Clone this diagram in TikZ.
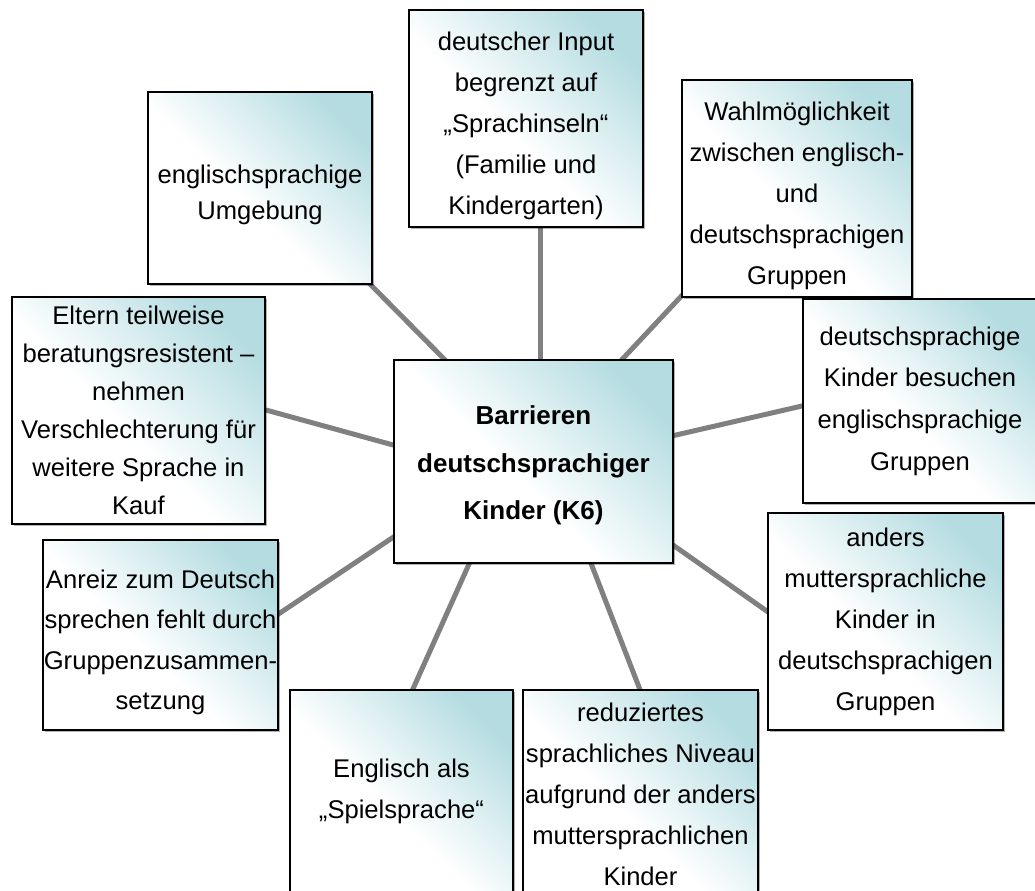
\documentclass[tikz,border=0pt]{standalone}
\usepackage{fontspec}
\setmainfont{Liberation Sans}
\usetikzlibrary{calc,backgrounds,shadows}
\definecolor{tealbox}{RGB}{180,220,225}
\definecolor{conngray}{RGB}{128,128,128}
\pgfdeclarehorizontalshading{boxshade}{100bp}{color(0bp)=(white); color(45bp)=(white); color(76bp)=(tealbox); color(100bp)=(tealbox)}
\tikzset{
  box/.style={draw=black, line width=1pt, shade, shading=boxshade, shading angle=45,
    drop shadow={shadow xshift=1.5pt, shadow yshift=-1.5pt, fill=black, opacity=0.3},
    inner sep=0pt},
  txt/.style={align=center, inner sep=0pt, font=\fontsize{19.2}{30.75}\selectfont},
  maintxt/.style={txt, font=\fontsize{19.5}{35.6}\selectfont\bfseries},
  conn/.style={draw=conngray, line width=3.75pt}
}
\begin{document}
\begin{tikzpicture}[x=0.75pt,y=-0.75pt]
\path[use as bounding box] (0,0) rectangle (1035,891);
\clip (0,0) rectangle (1035,891);
% boxes
\node[box, minimum width=209.25pt, minimum height=152.25pt] (c) at (533.5,461.5) {};
\node[box, minimum width=168pt, minimum height=144pt] (umg) at (260,188) {};
\node[box, minimum width=175.5pt, minimum height=162.75pt] (inp) at (526,118.5) {};
\node[box, minimum width=172.5pt, minimum height=162.75pt] (wahl) at (797,188.5) {};
\node[box, minimum width=175.5pt, minimum height=153pt] (dk) at (920,401) {};
\node[box, minimum width=189.75pt, minimum height=170.25pt] (eltern) at (138.5,410.5) {};
\node[box, minimum width=176.25pt, minimum height=142.5pt] (anreiz) at (160.5,635) {};
\node[box, minimum width=176.25pt, minimum height=162.75pt] (anders) at (885.5,621.5) {};
\node[box, minimum width=167.25pt, minimum height=152.25pt] (engl) at (401.5,791.5) {};
\node[box, minimum width=176.25pt, minimum height=161.25pt] (red) at (640.5,797.5) {};
% texts
\node[maintxt] (cT) at ($(c)+(0,4)$) {Barrieren\\deutschsprachiger\\Kinder (K6)};
\node[txt, font=\fontsize{19.2}{27}\selectfont] (umgT) at ($(umg)+(0,7)$) {englischsprachige\\Umgebung};
\node[txt] (inpT) at ($(inp)+(0,7)$) {deutscher Input\\begrenzt auf\\„Sprachinseln“\\(Familie und\\Kindergarten)};
\node[txt] (wahlT) at ($(wahl)+(0,7)$) {Wahlmöglichkeit\\zwischen englisch-\\und\\deutschsprachigen\\Gruppen};
\node[txt, font=\fontsize{19.2}{31.25}\selectfont] (dkT) at (dk) {deutschsprachige\\Kinder besuchen\\englischsprachige\\Gruppen};
\node[txt, font=\fontsize{19.2}{28.5}\selectfont] (elternT) at (eltern) {Eltern teilweise\\beratungsresistent –\\nehmen\\Verschlechterung für\\weitere Sprache in\\Kauf};
\node[txt, font=\fontsize{19.2}{30.2}\selectfont] (anreizT) at ($(anreiz)+(0,7.5)$) {Anreiz zum Deutsch\\sprechen fehlt durch\\Gruppenzusammen-\\setzung};
\node[txt] (andersT) at (anders) {anders\\muttersprachliche\\Kinder in\\deutschsprachigen\\Gruppen};
\node[txt] (englT) at (engl) {Englisch als\\„Spielsprache“};
\node[txt] (redT) at ($(red)+(0,-3)$) {reduziertes\\sprachliches Niveau\\aufgrund der anders\\muttersprachlichen\\Kinder};
% connectors
\begin{scope}[on background layer]
\draw[conn] ($(c)+(-78.5,-91.5)$) -- ($(umg)+(102,88)$);
\draw[conn] ($(c)+(6.5,-91.5)$) -- ($(inp)+(14,101.5)$);
\draw[conn] ($(c)+(81.5,-94.5)$) -- ($(wahl)+(-109,100.5)$);
\draw[conn] ($(c)+(129.5,-23.5)$) -- ($(dk)+(-105,2)$);
\draw[conn] ($(c)+(-129.5,-13.5)$) -- ($(eltern)+(116.5,-3.5)$);
\draw[conn] ($(c)+(-129.5,68.5)$) -- ($(anreiz)+(107.5,-14)$);
\draw[conn] ($(c)+(-59.5,91.5)$) -- ($(engl)+(6.5,-91.5)$);
\draw[conn] ($(c)+(53.5,91.5)$) -- ($(red)+(3.5,-97.5)$);
\draw[conn] ($(c)+(129.5,76.5)$) -- ($(anders)+(-107.5,-2.5)$);
\end{scope}
\end{tikzpicture}
\end{document}
